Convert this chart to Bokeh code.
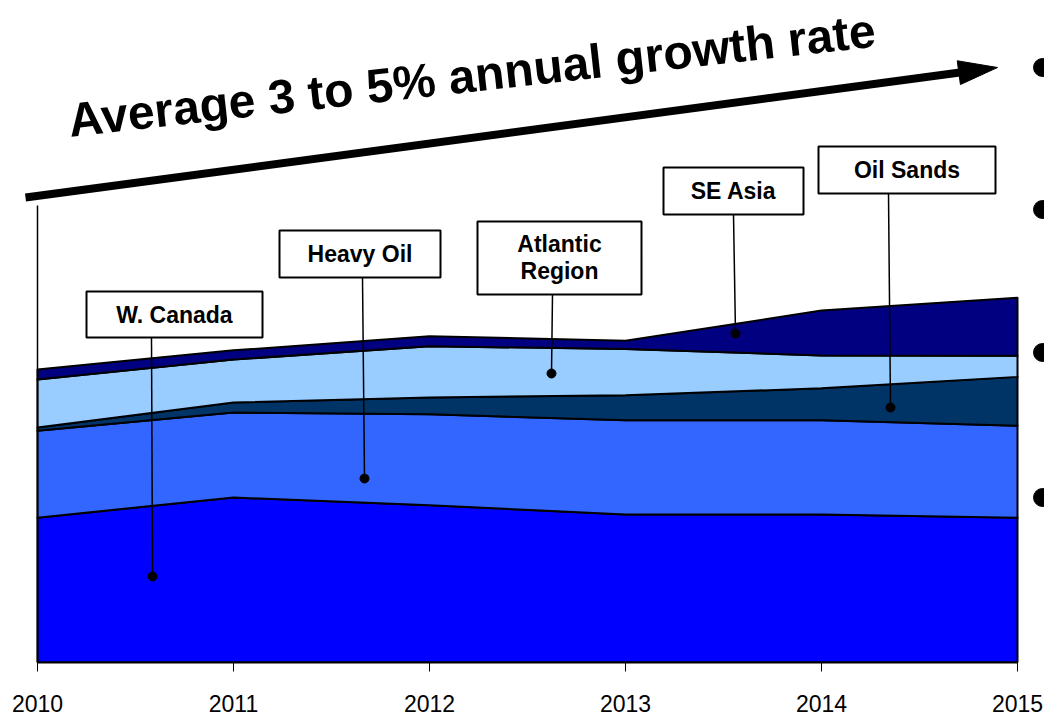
import numpy as np
from bokeh.plotting import figure
from bokeh.models import Range1d, BoxAnnotation, Label, FixedTicker
from bokeh.embed import file_html
from bokeh.resources import INLINE

# ---------------- data ----------------
years = [2010, 2011, 2012, 2013, 2014, 2015]
tick_labels = ["2010", "2011", "2012", "2013", "2014", "2015"]
w_canada = [31.7, 36.1, 34.4, 32.4, 32.4, 31.7]
heavy_oil = [19.0, 18.6, 19.9, 20.6, 20.6, 20.1]
oil_sands = [0.7, 2.2, 3.7, 5.5, 7.0, 10.7]
atlantic = [10.5, 9.4, 11.2, 10.1, 7.2, 4.6]
se_asia = [2.2, 2.0, 2.2, 1.8, 9.8, 12.7]
series_names = ["W. Canada", "Heavy Oil", "Oil Sands", "Atlantic Region", "SE Asia"]
series_values = [w_canada, heavy_oil, oil_sands, atlantic, se_asia]
colors = ["#0000FF", "#3366FF", "#003366", "#99CCFF", "#000080"]
title_text = "Average 3 to 5% annual growth rate"

# ---------------- layout helpers (picture pixel -> data) ----------------
X_LEFT_PX, X_RIGHT_PX = 37, 1017     # pixel of 2010 / 2015
PX_PER_YEAR = (X_RIGHT_PX - X_LEFT_PX) / 5.0
Y_ZERO_PX, Y_TOP_PX = 662, 205        # pixel of 0 / 100
PX_PER_UNIT = (Y_ZERO_PX - Y_TOP_PX) / 100.0
FRAME_L, FRAME_R, FRAME_T = 0, 1044, 0


def X(ix):
    return 2010 + (ix - X_LEFT_PX) / PX_PER_YEAR


def Y(iy):
    return (Y_ZERO_PX - iy) / PX_PER_UNIT


p = figure(frame_width=FRAME_R - FRAME_L, frame_height=Y_ZERO_PX - FRAME_T,
           x_range=Range1d(X(FRAME_L), X(FRAME_R)),
           y_range=Range1d(0, Y(FRAME_T)),
           output_backend="svg", toolbar_location=None, y_axis_location=None,
           min_border_left=0, min_border_right=0, min_border_top=0,
           min_border_bottom=59, background_fill_color="white")
p.outline_line_color = None
p.xgrid.visible = False
p.ygrid.visible = False

ax = p.xaxis[0]
ax.ticker = FixedTicker(ticks=years)
ax.major_label_overrides = {y: t for y, t in zip(years, tick_labels)}
ax.bounds = (2010, 2015)
ax.axis_line_color = "black"
ax.axis_line_width = 2
ax.major_tick_line_color = "black"
ax.major_tick_line_width = 1
ax.major_tick_out = 9
ax.major_tick_in = 0
ax.minor_tick_out = 0
ax.minor_tick_in = 0
ax.major_label_standoff = 23
ax.major_label_text_font = "Liberation Sans"
ax.major_label_text_font_size = "23px"
ax.major_label_text_color = "black"

# ---------------- stacked areas ----------------
cum = np.zeros(len(years))
for vals, col in zip(series_values, colors):
    bottom = cum.copy()
    top = cum + np.array(vals)
    xs = list(years) + list(years[::-1])
    ys = list(top) + list(bottom[::-1])
    p.patch(xs, ys, fill_color=col, line_color="black", line_width=2,
            line_join="round")
    cum = top

# left axis line
p.segment(x0=[2010], y0=[0], x1=[2010], y1=[100], line_color="black",
          line_width=1.5)

# ---------------- growth arrow ----------------
sx, sy = 25.0, 197.0
tx, ty = 997.0, 67.0
dx, dy = tx - sx, ty - sy
L = (dx ** 2 + dy ** 2) ** 0.5
ux, uy = dx / L, dy / L
head_len, head_half = 39.0, 12.0
bcx, bcy = tx - head_len * ux, ty - head_len * uy
nx, ny = -uy, ux
b1 = (bcx + head_half * nx, bcy + head_half * ny)
b2 = (bcx - head_half * nx, bcy - head_half * ny)
p.line([X(sx), X(bcx + 3 * ux)], [Y(sy), Y(bcy + 3 * uy)], line_color="black",
       line_width=8)
p.patch([X(tx), X(b1[0]), X(b2[0])], [Y(ty), Y(b1[1]), Y(b2[1])],
        fill_color="black", line_color="black", line_width=1)

p.add_layout(Label(x=X(68), y=Y(120), text=title_text, angle=0.1117,
                   text_font="Liberation Sans", text_font_style="bold",
                   text_font_size="48px", text_color="black",
                   text_align="left", text_baseline="alphabetic"))

# ---------------- right-hand bullets ----------------
p.scatter(x=[X(1042)] * 4, y=[Y(67), Y(209), Y(352), Y(497)], size=18,
          color="black")

# ---------------- callouts ----------------
callouts = [
    # box l, t, r, b ; text lines with y ; leader x0,y0,x1,y1
    ((86, 291, 262, 337), [("W. Canada", 314)], (151, 337, 152, 576)),
    ((279, 230, 440, 277), [("Heavy Oil", 253)], (362, 277, 364, 478)),
    ((477, 221, 641, 294), [("Atlantic", 243), ("Region", 270)], (552, 294, 551, 373)),
    ((663, 167, 803, 214), [("SE Asia", 190)], (733, 214, 735, 333)),
    ((818, 146, 995, 193), [("Oil Sands", 169)], (888, 193, 890, 407)),
]

for (l, t, r, b), lines, (x0, y0, x1, y1) in callouts:
    p.segment(x0=[X(x0)], y0=[Y(y0)], x1=[X(x1)], y1=[Y(y1)],
              line_color="black", line_width=1.5)
    p.scatter(x=[X(x1)], y=[Y(y1)], size=9, color="black")
    p.add_layout(BoxAnnotation(left=X(l), right=X(r), top=Y(t), bottom=Y(b),
                               fill_color="white", fill_alpha=1.0,
                               line_color="black", line_alpha=1.0,
                               line_width=2))
    for txt, ty_ in lines:
        p.add_layout(Label(x=X((l + r) / 2), y=Y(ty_), text=txt,
                           text_font="Liberation Sans", text_font_style="bold",
                           text_font_size="23px", text_color="black",
                           text_align="center", text_baseline="middle"))

open("out.html", "w").write(file_html(p, INLINE))
